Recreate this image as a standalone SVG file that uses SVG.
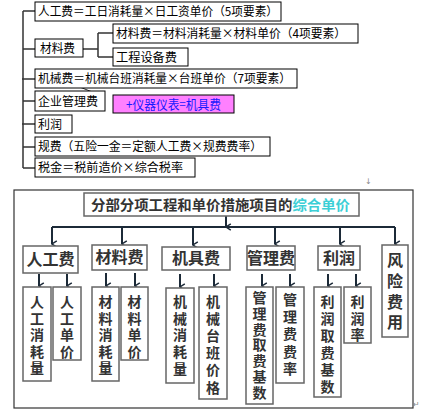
<svg xmlns="http://www.w3.org/2000/svg" width="426" height="414" viewBox="0 0 426 414">
<defs>
<style>
.t{font-family:"Noto Sans CJK SC","Liberation Sans",sans-serif;font-size:12px;fill:#000}
.bx{fill:#fff;stroke:#000;stroke-width:1}
.tree{stroke:#333;stroke-width:1.5;fill:none}
.gb{fill:#fff;stroke:#666;stroke-width:1.5}
.l2{font-family:"Noto Sans CJK SC","Liberation Sans",sans-serif;font-size:16px;font-weight:bold;fill:#333;text-anchor:middle}
.l3{font-family:"Noto Sans CJK SC","Liberation Sans",sans-serif;font-size:14px;font-weight:bold;fill:#333;text-anchor:middle}
.ar{stroke:#1c2a38;stroke-width:2;fill:none}
</style>
<marker id="ah" viewBox="0 0 10 10" refX="5" refY="9" markerWidth="8" markerHeight="8" markerUnits="userSpaceOnUse" orient="auto-start-reverse">
<path d="M1,3 L5,9 L9,3" fill="none" stroke="#1c2a38" stroke-width="1.8"/>
</marker>
</defs>
<rect width="426" height="414" fill="#fff"/>

<g id="tree-connectors">
<path class="tree" d="M23,11 V168 M23,11 H35 M23,49 H35 M22,79 H35 M23,101 H35 M22,124 H35 M23,147 H35 M23,168 H35"/>
<path class="tree" d="M83,49 H98 M98,33 V57 M98,33 H113 M98,57 H113"/>
<path d="M67,82 L105,97" stroke="#333" stroke-width="1" fill="none"/>
</g>

<g id="n-rgf"><rect class="bx" x="35" y="2" width="246" height="19"/><text class="t" x="38" y="16" textLength="240" lengthAdjust="spacingAndGlyphs">人工费＝工日消耗量×日工资单价（5项要素）</text></g>
<g id="n-clf"><rect class="bx" x="35" y="39" width="48" height="18"/><text class="t" x="40" y="53" textLength="35" lengthAdjust="spacingAndGlyphs">材料费</text></g>
<g id="n-clf2"><rect class="bx" x="113" y="24" width="245" height="19"/><text class="t" x="116" y="38" textLength="230" lengthAdjust="spacingAndGlyphs">材料费＝材料消耗量×材料单价（4项要素）</text></g>
<g id="n-gcsb"><rect class="bx" x="113" y="48" width="75" height="18"/><text class="t" x="116" y="62" textLength="61" lengthAdjust="spacingAndGlyphs">工程设备费</text></g>
<g id="n-jxf"><rect class="bx" x="35" y="69" width="262" height="19"/><text class="t" x="38" y="83" textLength="253" lengthAdjust="spacingAndGlyphs">机械费＝机械台班消耗量×台班单价（7项要素）</text></g>
<g id="n-qygl"><rect class="bx" x="35" y="91" width="70" height="20"/><text class="t" x="38" y="106" textLength="60" lengthAdjust="spacingAndGlyphs">企业管理费</text></g>
<g id="n-yqyb"><rect x="113" y="95" width="121" height="18" fill="#ff80ff" stroke="#000" stroke-width="1"/><text class="t" x="126" y="108.5" textLength="95" lengthAdjust="spacingAndGlyphs" style="fill:#1a1aff;font-size:13px">+仪器仪表=机具费</text></g>
<g id="n-lr"><rect class="bx" x="35" y="115" width="37" height="18"/><text class="t" x="38" y="129" textLength="24" lengthAdjust="spacingAndGlyphs">利润</text></g>
<g id="n-gf"><rect class="bx" x="35" y="137" width="235" height="19"/><text class="t" x="38" y="151" textLength="224" lengthAdjust="spacingAndGlyphs">规费（五险一金＝定额人工费×规费费率）</text></g>
<g id="n-sj"><rect class="bx" x="35" y="158" width="160" height="19"/><text class="t" x="38" y="172" textLength="145" lengthAdjust="spacingAndGlyphs">税金＝税前造价×综合税率</text></g>

<text x="365" y="184" font-family="DejaVu Sans, sans-serif" font-size="8" fill="#888">↓</text>

<rect id="frame" x="14" y="190" width="399" height="218" fill="none" stroke="#333" stroke-width="1.2"/>

<g id="connectors">
<path class="ar" d="M52,227 H395"/>
<path class="ar" d="M226,216 V227" marker-end="url(#ah)"/>
<path class="ar" d="M52,227 V244" marker-end="url(#ah)"/>
<path class="ar" d="M122,227 V244" marker-end="url(#ah)"/>
<path class="ar" d="M193,227 V245" marker-end="url(#ah)"/>
<path class="ar" d="M275,227 V244" marker-end="url(#ah)"/>
<path class="ar" d="M340,227 V244" marker-end="url(#ah)"/>
<path class="ar" d="M395,227 V244" marker-end="url(#ah)"/>
<path class="ar" d="M39,274 V286" marker-end="url(#ah)"/>
<path class="ar" d="M67,274 V286" marker-end="url(#ah)"/>
<path class="ar" d="M106,273 V286" marker-end="url(#ah)"/>
<path class="ar" d="M135,273 V286" marker-end="url(#ah)"/>
<path class="ar" d="M180,274 V287" marker-end="url(#ah)"/>
<path class="ar" d="M214,274 V286" marker-end="url(#ah)"/>
<path class="ar" d="M262,274 V286" marker-end="url(#ah)"/>
<path class="ar" d="M290,274 V286" marker-end="url(#ah)"/>
<path class="ar" d="M328,274 V286" marker-end="url(#ah)"/>
<path class="ar" d="M356,274 V286" marker-end="url(#ah)"/>
</g>

<g id="n-title"><rect class="gb" x="84" y="193" width="275" height="23"/><text x="91" y="210" font-family="Noto Sans CJK SC, Liberation Sans, sans-serif" font-size="14" font-weight="bold" fill="#333" textLength="259" lengthAdjust="spacingAndGlyphs">分部分项工程和单价措施项目的<tspan fill="#3ccfd6">综合单价</tspan></text></g>

<g id="n-b-rgf"><rect class="gb" x="23" y="246" width="55" height="27"/><text class="l2" x="50.5" y="265">人工费</text></g>
<g id="n-b-clf"><rect class="gb" x="92" y="245" width="55" height="25"/><text class="l2" x="119.5" y="263">材料费</text></g>
<g id="n-b-jjf"><rect class="gb" x="162" y="247" width="68" height="23"/><text class="l2" x="196" y="264">机具费</text></g>
<g id="n-b-glf"><rect class="gb" x="247" y="246" width="48" height="24"/><text class="l2" x="271" y="264">管理费</text></g>
<g id="n-b-lr"><rect class="gb" x="318" y="246" width="42" height="24"/><text class="l2" x="339" y="264">利润</text></g>
<g id="n-b-fx"><rect class="gb" x="382" y="245" width="26" height="92"/><text class="l2" x="395" y="266">风<tspan x="395" dy="21">险</tspan><tspan x="395" dy="21">费</tspan><tspan x="395" dy="20">用</tspan></text></g>

<g id="n-rgxhl"><rect class="gb" x="23" y="287" width="28" height="94"/><text class="l3" x="37" y="307">人<tspan x="37" dy="16.5">工</tspan><tspan x="37" dy="16.5">消</tspan><tspan x="37" dy="16.5">耗</tspan><tspan x="37" dy="16.5">量</tspan></text></g>
<g id="n-rgdj"><rect class="gb" x="53" y="287" width="28" height="73"/><text class="l3" x="67" y="307">人<tspan x="67" dy="16.5">工</tspan><tspan x="67" dy="16.5">单</tspan><tspan x="67" dy="16.5">价</tspan></text></g>
<g id="n-clxhl"><rect class="gb" x="92" y="287" width="27" height="94"/><text class="l3" x="105.5" y="307">材<tspan x="105.5" dy="16.5">料</tspan><tspan x="105.5" dy="16.5">消</tspan><tspan x="105.5" dy="16.5">耗</tspan><tspan x="105.5" dy="16.5">量</tspan></text></g>
<g id="n-cldj"><rect class="gb" x="121" y="287" width="27" height="73"/><text class="l3" x="134.5" y="307">材<tspan x="134.5" dy="16.5">料</tspan><tspan x="134.5" dy="16.5">单</tspan><tspan x="134.5" dy="16.5">价</tspan></text></g>
<g id="n-jxxhl"><rect class="gb" x="166" y="288" width="28" height="95"/><text class="l3" x="180" y="307">机<tspan x="180" dy="16.5">械</tspan><tspan x="180" dy="16.5">消</tspan><tspan x="180" dy="17">耗</tspan><tspan x="180" dy="17">量</tspan></text></g>
<g id="n-jxtbjg"><rect class="gb" x="199" y="287" width="28" height="112"/><text class="l3" x="213" y="307">机<tspan x="213" dy="16.5">械</tspan><tspan x="213" dy="17">台</tspan><tspan x="213" dy="17.5">班</tspan><tspan x="213" dy="17">价</tspan><tspan x="213" dy="17.5">格</tspan></text></g>
<g id="n-glfqfjs"><rect class="gb" x="246" y="287" width="27" height="117"/><text class="l3" x="259.5" y="303">管<tspan x="259.5" dy="15.8">理</tspan><tspan x="259.5" dy="15.8">费</tspan><tspan x="259.5" dy="15.8">取</tspan><tspan x="259.5" dy="15.8">费</tspan><tspan x="259.5" dy="15.8">基</tspan><tspan x="259.5" dy="15.8">数</tspan></text></g>
<g id="n-glffl"><rect class="gb" x="276" y="287" width="28" height="96"/><text class="l3" x="290" y="305">管<tspan x="290" dy="17">理</tspan><tspan x="290" dy="17">费</tspan><tspan x="290" dy="17.5">费</tspan><tspan x="290" dy="17.5">率</tspan></text></g>
<g id="n-lrqfjs"><rect class="gb" x="314" y="287" width="27" height="110"/><text class="l3" x="327.5" y="307">利<tspan x="327.5" dy="17">润</tspan><tspan x="327.5" dy="17">取</tspan><tspan x="327.5" dy="17">费</tspan><tspan x="327.5" dy="17">基</tspan><tspan x="327.5" dy="17">数</tspan></text></g>
<g id="n-lrl"><rect class="gb" x="344" y="287" width="27" height="56"/><text class="l3" x="357.5" y="307">利<tspan x="357.5" dy="16.5">润</tspan><tspan x="357.5" dy="16.5">率</tspan></text></g>

<text x="413" y="407" font-family="DejaVu Sans, sans-serif" font-size="8" fill="#888">↵</text>
</svg>
